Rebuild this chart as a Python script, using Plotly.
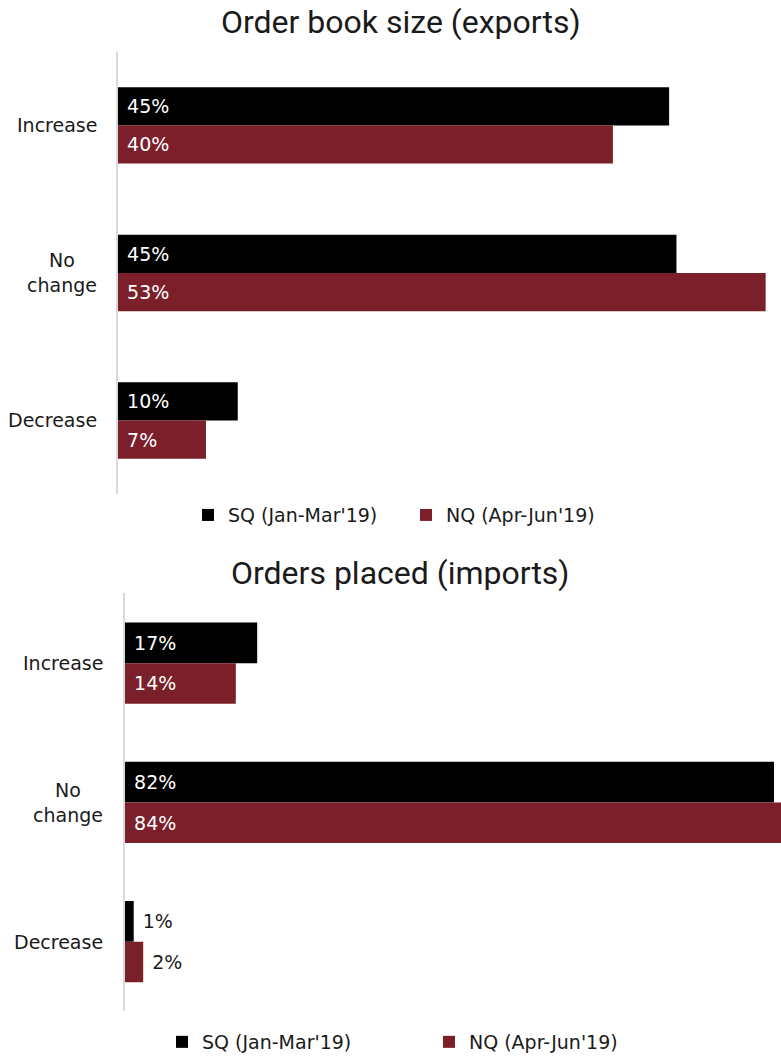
import plotly.graph_objects as go

categories = ["Increase", "No change", "Decrease"]
series_names = ["SQ (Jan-Mar'19)", "NQ (Apr-Jun'19)"]
colors = ["#000000", "#7B1F2B"]

titles = ["Order book size (exports)", "Orders placed (imports)"]

exports_sq = [45.1, 45.7, 9.8]
exports_nq = [40.5, 53.0, 7.2]
exports_sq_labels = ["45%", "45%", "10%"]
exports_nq_labels = ["40%", "53%", "7%"]

imports_sq = [16.7, 82.0, 1.1]
imports_nq = [14.0, 84.0, 2.3]
imports_sq_labels = ["17%", "82%", "1%"]
imports_nq_labels = ["14%", "84%", "2%"]

FONT = "DejaVu Sans"
TITLE_FONT = "Roboto"
TXT = "#1a1a1a"
FS = 19
W, H = 781, 1061

fig = go.Figure()

panels = [
    dict(sq=exports_sq, nq=exports_nq, sql=exports_sq_labels, nql=exports_nq_labels,
         xa="x", ya="y", legend="legend", bw=0.259,
         pos_sq=["inside"] * 3, pos_nq=["inside"] * 3),
    dict(sq=imports_sq, nq=imports_nq, sql=imports_sq_labels, nql=imports_nq_labels,
         xa="x2", ya="y2", legend="legend2", bw=0.292,
         pos_sq=["inside", "inside", "outside"], pos_nq=["inside", "inside", "outside"]),
]

for p in panels:
    for i, (vals, labs, pos) in enumerate([(p["sq"], p["sql"], p["pos_sq"]), (p["nq"], p["nql"], p["pos_nq"])]):
        fig.add_trace(go.Bar(
            x=vals, y=categories, orientation="h",
            name=series_names[i],
            marker=dict(color=colors[i], line=dict(width=0)),
            width=p["bw"], offset=-p["bw"] if i == 0 else 0,
            text=["\u00a0" + t for t in labs],
            textposition=pos,
            insidetextanchor="start",
            insidetextfont=dict(color="white", size=FS, family=FONT),
            outsidetextfont=dict(color=TXT, size=FS, family=FONT),
            cliponaxis=True,
            xaxis=p["xa"], yaxis=p["ya"], legend=p["legend"],
            hoverinfo="skip",
        ))

def px_x(v):
    return v / W

def px_y(v):
    return 1 - v / H

layout = dict(
    width=W, height=H, margin=dict(l=0, r=0, t=0, b=0),
    paper_bgcolor="white", plot_bgcolor="white",
    barmode="overlay", showlegend=True,
    font=dict(family=FONT, color=TXT, size=FS),
    xaxis=dict(domain=[px_x(118), 1], range=[0, (W - 118) / 12.22], visible=False, fixedrange=True),
    yaxis=dict(domain=[px_y(498), px_y(52)], range=[2.5, -0.5], showline=True,
               linecolor="#d9d9d9", linewidth=2, showticklabels=False, ticks="",
               showgrid=False, zeroline=False),
    xaxis2=dict(domain=[px_x(125), 1], range=[0, (W - 125) / 7.915], visible=False, anchor="y2"),
    yaxis2=dict(domain=[px_y(1019), px_y(598)], range=[2.5, -0.5], showline=True,
                linecolor="#d9d9d9", linewidth=2, showticklabels=False, ticks="",
                showgrid=False, zeroline=False, anchor="x2"),
    legend=dict(orientation="h", x=px_x(188), xanchor="left", y=px_y(519), yanchor="middle",
                font=dict(size=FS, family=FONT, color=TXT), entrywidth=173, traceorder="normal"),
    legend2=dict(orientation="h", x=px_x(162), xanchor="left", y=px_y(1050), yanchor="middle",
                 font=dict(size=FS, family=FONT, color=TXT), entrywidth=222, traceorder="normal"),
)

annotations = []
title_y = [22, 577]
for t, ty in zip(titles, title_y):
    annotations.append(dict(text=t, xref="paper", yref="paper", x=0.513, y=px_y(ty),
                            xanchor="center", yanchor="middle", showarrow=False,
                            font=dict(size=32, family=TITLE_FONT, color=TXT)))
for yref, right in [("y", 99), ("y2", 105)]:
    for c in categories:
        annotations.append(dict(text=c.replace(" ", "<br>"), xref="paper", yref=yref,
                                x=px_x(right), y=c, xanchor="right", yanchor="middle",
                                align="center", showarrow=False,
                                font=dict(size=FS, family=FONT, color=TXT)))
layout["annotations"] = annotations

fig.update_layout(**layout)
fig.write_html("out.html")
